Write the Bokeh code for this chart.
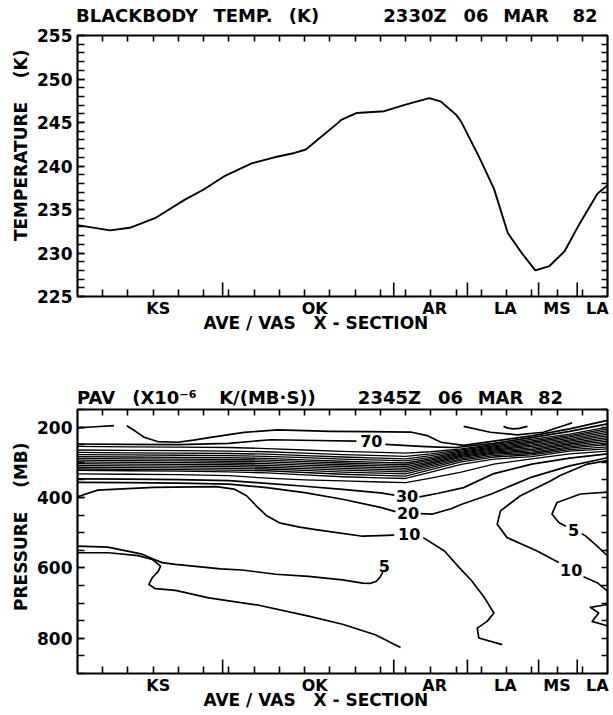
from bokeh.plotting import figure
from bokeh.models import Range1d, LinearAxis, FixedTicker, Label, CustomJSTickFormatter
from bokeh.layouts import column
from bokeh.embed import file_html
from bokeh.resources import INLINE

FONT = "DejaVu Sans"
NB = "\u00a0"

# ---------------- shared x axis (position along the AVE/VAS cross-section) ----------------
grid_ticks = list(range(1, 21))
state_bounds = [5.75, 12.53, 15.45, 18.27, 19.8]
state_names = ["KS", "OK", "AR", "LA", "MS", "LA"]
state_pos = [3.2, 9.4, 14.15, 16.95, 19.0, 20.6]

# ---------------- top panel: blackbody temperature (K) ----------------
top_title_words = ["BLACKBODY", "TEMP.", "(K)", "2330Z", "06", "MAR", "82"]
top_title_pos = [2.357, 6.557, 8.974, 13.37, 15.79, 17.77, 20.11]
tb_x = [0, 1.29, 2.07, 3.07, 4.24, 5.0, 5.8, 6.9, 7.8, 8.6, 9.05, 9.8, 10.3, 10.45, 11.07,
        12.16, 12.93, 13.94, 14.4, 15.0, 15.2, 15.9, 16.5, 17.05, 17.6, 18.14, 18.7, 19.3,
        19.9, 20.6, 21.0]
tb_temp = [233.2, 232.6, 232.9, 234.0, 236.1, 237.3, 238.8, 240.3, 241.0, 241.5, 241.9, 243.7,
           244.9, 245.3, 246.1, 246.3, 247.0, 247.8, 247.4, 245.9, 245.1, 241.1, 237.4, 232.3,
           230.0, 228.0, 228.5, 230.2, 233.4, 236.8, 237.8]
temp_ticks = [225, 230, 235, 240, 245, 250, 255]
temp_minor = list(range(225, 256))

# ---------------- bottom panel: PAV contours, (x, pressure mb) ----------------
bot_title_words = ["PAV", "(X10\u207b\u2076", "K/(MB\u00b7S))", "2345Z", "06", "MAR", "82"]
bot_title_pos = [0.733, 3.447, 7.528, 12.36, 14.78, 16.76, 18.74]
pres_ticks = [200, 400, 600, 800]
pres_minor = list(range(150, 901, 50))

c_short_x = [0, 0.7, 1.45]
c_short_p = [202, 199, 196]
c_upper_x = [1.95, 2.3, 2.64, 3.17, 3.96, 4.6, 5.28, 6.6, 7.93, 9.0, 10.0, 11.5, 13.2, 13.85,
             14.4, 15.3, 16.5, 18.0, 19.5, 21.0]
c_upper_p = [196, 212, 229, 241, 243, 237, 229, 215, 208, 210, 212, 213, 214, 224,
             243, 252, 240, 225, 205, 181]
c70_left_x = [0, 2, 4, 6, 7.65, 9.5, 11.05]
c70_left_p = [248, 249, 250, 246, 236, 238, 240]
c70_right_x = [12.2, 12.9, 13.6, 14.3, 15.0, 16.5, 18.0, 19.5, 21.0]
c70_right_p = [249, 252, 255, 257, 258, 246, 230, 212, 191]
c_cap_x = [15.3, 16.36, 17.42, 18.46, 19.25, 19.6]
c_cap_p = [198, 214.7, 222, 214.7, 196, 188]
c_arc_x = [16.88, 17.05, 17.27, 17.5, 17.83]
c_arc_p = [198, 203, 205, 203.5, 198]

band_x = [0, 2, 4, 6, 7.5, 9, 10.5, 12, 13, 14, 15.2, 16.5, 18, 19.5, 21]
band_p01 = [255, 256, 257, 258, 261, 265, 269, 272, 274, 270, 262, 250, 235, 220, 200]
band_p02 = [265, 266, 267, 268, 270, 274, 278, 281, 283, 276, 265, 253, 239, 224, 205]
band_p03 = [272, 273, 274, 275, 277, 281, 285, 288, 290, 281, 268, 256, 243, 228, 210]
band_p04 = [278, 279, 280, 281, 283, 287, 291, 294, 296, 286, 271, 259, 247, 232, 215]
band_p05 = [284, 285, 286, 287, 289, 293, 297, 300, 302, 290, 274, 262, 251, 236, 220]
band_p06 = [289, 290, 291, 292, 294, 298, 302, 305, 307, 294, 277, 265, 255, 240, 225]
band_p07 = [294, 295, 296, 297, 299, 303, 307, 310, 312, 298, 280, 268, 259, 244, 230]
band_p08 = [299, 300, 301, 302, 304, 308, 312, 315, 317, 302, 283, 271, 263, 248, 235]
band_p09 = [304, 305, 306, 307, 309, 313, 317, 320, 322, 306, 286, 274, 267, 252, 240]
band_p10 = [309, 310, 311, 312, 314, 318, 322, 325, 327, 310, 290, 277, 271, 256, 245]
band_p11 = [314, 315, 316, 317, 319, 323, 328, 331, 333, 315, 294, 281, 275, 260, 250]
band_p12 = [319, 320, 321, 322, 324, 329, 334, 337, 339, 321, 299, 285, 279, 264, 256]
band_p13 = [323, 324, 325, 327, 330, 336, 341, 344, 346, 328, 306, 291, 284, 268, 262]
band_p14 = [333, 334, 335, 338, 345, 350, 353, 356, 358, 345, 328, 305, 290, 276, 268]

c30_left_x = [0, 2, 4, 6, 7.5, 9, 10.5, 12, 12.55]
c30_left_p = [347, 348, 349, 352, 360, 368, 377, 387, 393]
c30_right_x = [13.55, 14.3, 15.3, 16.5, 18, 19.5, 21]
c30_right_p = [398, 388, 372, 332, 305, 288, 276]
c20_left_x = [0, 2, 4, 6, 7.5, 9, 10.5, 12, 12.6]
c20_left_p = [357, 358, 359, 362, 372, 386, 405, 428, 440]
c20_right_x = [13.6, 14.07, 14.8, 15.2, 16.4, 18, 19.5, 21]
c20_right_p = [446, 447, 432, 420, 390, 342, 310, 287]
c10_left_x = [0, 0.8, 3.0, 5.5, 6.2, 6.7, 7.1, 7.5, 8.0, 8.8, 9.5, 11.3, 12.55]
c10_left_p = [398, 379, 371, 369, 376, 395, 425, 452, 472, 484, 492, 510, 507]
c10_mid_x = [13.7, 14.54, 15.2, 15.6, 16.1, 16.5, 16.23, 15.84, 15.9, 16.83]
c10_mid_p = [514, 552, 605, 635, 682, 728, 752, 771, 799, 818]
c10_east_a_x = [21, 20.2, 19.1, 18.74, 17.55, 16.76, 16.63, 17.02, 18.21, 19.07]
c10_east_a_p = [295, 305, 338, 353, 395, 438, 476, 514, 552, 585]
c10_east_b_x = [20.05, 20.59, 21]
c10_east_b_p = [625, 642, 666]
c5_east_a_x = [21, 19.93, 19.0, 18.8, 19.07, 19.35]
c5_east_a_p = [385, 390, 414, 447, 471, 482]
c5_east_b_x = [19.98, 20.13, 20.59, 21]
c5_east_b_p = [503, 509, 538, 566]
c_squig_x = [21, 20.32, 20.65, 20.39, 20.92, 21]
c_squig_p = [704, 712, 728, 752, 763, 765]
c5_west_a_x = [0, 1.2, 2.56, 3.0, 3.35, 3.88, 5.67, 6.52, 7.85, 9.16, 10.5, 11.3, 11.6, 11.85, 12.0, 12.1]
c5_west_a_p = [538, 541, 561, 575, 585, 590, 603, 606, 618, 624, 634, 643, 644, 638, 625, 612]
c5_west_b_x = [0, 1.24, 2.4, 2.96, 3.29, 3.2, 2.96, 2.83, 3.09, 3.88, 5.2, 7.18, 9.16, 10.5, 11.8, 12.8]
c5_west_b_p = [557, 557, 565, 576, 595, 610, 628, 647, 659, 664, 685, 706, 737, 760, 790, 826]

clabel_text = ["70", "30", "20", "10", "5", "5", "10"]
clabel_x = [11.64, 13.06, 13.1, 13.14, 12.16, 19.66, 19.56]
clabel_p = [240.7, 395, 444, 504.5, 595, 493, 607]


def name_formatter(pos, names):
    return CustomJSTickFormatter(args=dict(pos=pos, names=names), code="""
        for (let i = 0; i < pos.length; i++) {
            if (Math.abs(pos[i] - tick) < 1e-6) { return names[i]; }
        }
        return "";
    """)


def blank_formatter():
    return CustomJSTickFormatter(code="return '';")


def make_panel(height, top, bottom, y0, y1):
    p = figure(width=613, height=height, output_backend="svg", toolbar_location=None,
               x_range=Range1d(0, 21), y_range=Range1d(y0, y1),
               x_axis_location=None, y_axis_location=None,
               min_border_left=77, min_border_right=6,
               min_border_top=top, min_border_bottom=bottom)
    p.grid.visible = False
    p.outline_line_color = "black"
    p.outline_line_width = 2.2
    p.outline_line_alpha = 1.0
    p.background_fill_color = "white"
    p.border_fill_color = "white"
    return p


def tick_axis(ticks, tick_len, minor=None, minor_len=0):
    ax = LinearAxis(ticker=FixedTicker(ticks=ticks, minor_ticks=minor or []))
    ax.axis_line_color = None
    ax.major_tick_in = tick_len
    ax.major_tick_out = 0
    ax.minor_tick_in = minor_len
    ax.minor_tick_out = 0
    ax.major_tick_line_color = "black"
    ax.minor_tick_line_color = "black"
    ax.major_tick_line_width = 1.6
    ax.minor_tick_line_width = 1.6
    ax.major_label_text_font = FONT
    ax.major_label_text_font_style = "bold"
    ax.major_label_text_color = "black"
    ax.axis_label_text_font = FONT
    ax.axis_label_text_font_style = "bold"
    ax.axis_label_text_color = "black"
    return ax


def decorate(p, y_lo, long_dy, title_pos, title_words, title_standoff, ylabel, yticks, yminor):
    # left axis with numbers and title
    ax = tick_axis(yticks, 7, yminor, 7)
    ax.major_label_text_font_size = "17px"
    ax.major_label_standoff = 5
    ax.axis_label = ylabel
    ax.axis_label_text_font_size = "17px"
    ax.axis_label_standoff = 3
    p.add_layout(ax, "left")
    # right axis: ticks only
    ax = tick_axis(yminor, 6)
    ax.formatter = blank_formatter()
    ax.major_label_standoff = 0
    p.add_layout(ax, "right")
    # top axis: grid ticks plus the panel title words
    ax = tick_axis(title_pos, 0, grid_ticks, 6)
    ax.formatter = name_formatter(title_pos, title_words)
    ax.major_label_text_font_size = "18px"
    ax.major_label_standoff = title_standoff
    p.add_layout(ax, "above")
    # bottom axis: grid ticks plus state names and section title
    ax = tick_axis(state_pos, 0, grid_ticks, 7)
    ax.formatter = name_formatter(state_pos, state_names)
    ax.major_label_text_font_size = "16px"
    ax.major_label_standoff = 2
    ax.axis_label = "AVE / VAS" + NB * 3 + "X - SECTION" + NB * 9
    ax.axis_label_text_font_size = "17px"
    ax.axis_label_standoff = -8
    p.add_layout(ax, "below")
    # long ticks at the state boundaries
    n = len(state_bounds)
    p.segment(x0=state_bounds, y0=[y_lo] * n, x1=state_bounds, y1=[y_lo + long_dy] * n,
              line_color="black", line_width=1.6)


# ---------------- top figure ----------------
p1 = make_panel(363, 35, 67, 225, 255)
decorate(p1, 225, 14 * 30 / 261, top_title_pos, top_title_words, 10,
         NB * 7 + "TEMPERATURE" + NB * 4 + "(K)", temp_ticks, temp_minor)
p1.line(tb_x, tb_temp, line_color="black", line_width=1.9)

# ---------------- bottom figure ----------------
p2 = make_panel(352, 46, 42, 900, 150)
decorate(p2, 900, -14 * 750 / 264, bot_title_pos, bot_title_words, 2,
         NB * 5 + "PRESSURE" + NB * 4 + "(MB)", pres_ticks, pres_minor)

band_lines = [band_p01, band_p02, band_p03, band_p04, band_p05, band_p06, band_p07,
              band_p08, band_p09, band_p10, band_p11, band_p12, band_p13, band_p14]
p2.multi_line([band_x] * len(band_lines), band_lines, line_color="black",
              line_width=1.3, line_join="round")

xs, ys = [], []
for cx, cp in [(c_short_x, c_short_p), (c_upper_x, c_upper_p), (c70_left_x, c70_left_p),
               (c70_right_x, c70_right_p), (c_cap_x, c_cap_p), (c_arc_x, c_arc_p),
               (c30_left_x, c30_left_p), (c30_right_x, c30_right_p),
               (c20_left_x, c20_left_p), (c20_right_x, c20_right_p),
               (c10_left_x, c10_left_p), (c10_mid_x, c10_mid_p),
               (c10_east_a_x, c10_east_a_p), (c10_east_b_x, c10_east_b_p),
               (c5_east_a_x, c5_east_a_p), (c5_east_b_x, c5_east_b_p),
               (c_squig_x, c_squig_p), (c5_west_a_x, c5_west_a_p),
               (c5_west_b_x, c5_west_b_p)]:
    xs.append(cx)
    ys.append(cp)
p2.multi_line(xs, ys, line_color="black", line_width=1.7, line_join="round")

for t, xl, pl in zip(clabel_text, clabel_x, clabel_p):
    p2.add_layout(Label(x=xl, y=pl, text=t, text_font=FONT, text_font_size="16px",
                        text_font_style="bold", text_align="center",
                        text_baseline="middle", text_color="black"))

layout = column(p1, p2)
open("out.html", "w").write(file_html(layout, INLINE))
